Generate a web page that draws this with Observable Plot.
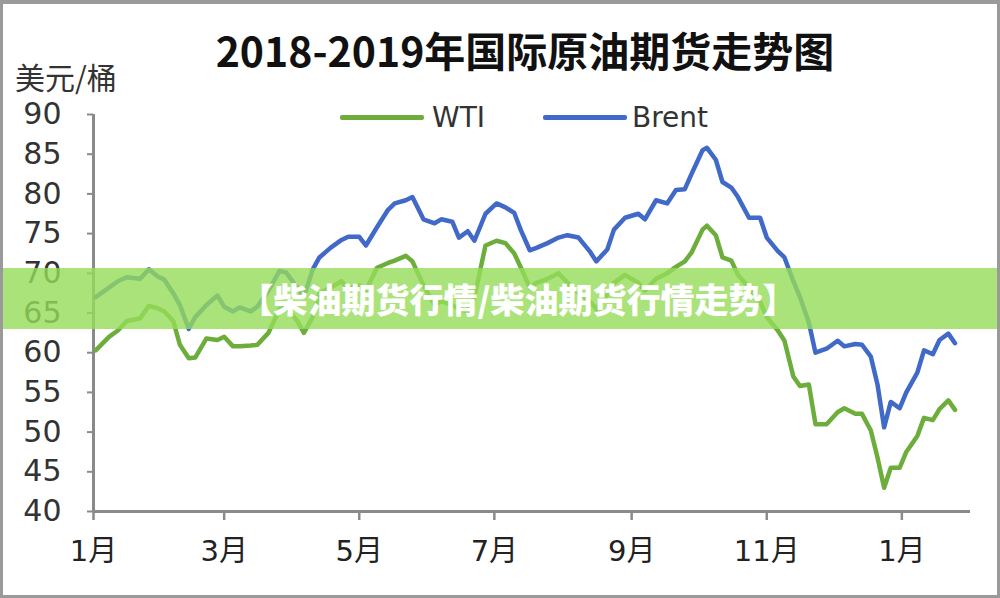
<!DOCTYPE html>
<html><head><meta charset="utf-8">
<script src="https://cdn.jsdelivr.net/npm/d3@7"></script>
<script src="https://cdn.jsdelivr.net/npm/@observablehq/plot@0.6"></script>
<style>
html,body{margin:0;padding:0;background:#fff;}
#wrap{position:relative;width:1000px;height:598px;overflow:hidden;background:#fff;}
#chart{position:absolute;left:0;top:0;}
#title{position:absolute;left:0;width:1050px;top:29px;text-align:center;font-family:"Noto Sans CJK SC",sans-serif;font-weight:bold;font-size:41px;line-height:41px;color:#111;white-space:nowrap;}
#ylabel{position:absolute;left:15px;top:61px;font-family:"Noto Sans CJK SC",sans-serif;font-size:30px;line-height:30px;color:#333;}
.sw{position:absolute;height:5px;border-radius:2px;}
.lt{position:absolute;font-family:"DejaVu Sans",sans-serif;font-size:28px;line-height:28px;color:#333;}
#banner{position:absolute;left:0;top:268px;width:1000px;height:61px;background:rgba(150,220,90,0.8);}
#bannerText{position:absolute;left:0;top:268px;width:1036px;height:61px;line-height:61px;text-align:center;color:#fff;font-family:"Noto Sans CJK SC",sans-serif;font-weight:900;font-size:34px;white-space:nowrap;}
#frame{position:absolute;left:0;top:0;width:1000px;height:598px;box-sizing:border-box;border:3px solid #9a9a9a;border-top-width:4px;pointer-events:none;}
</style>
</head><body>
<div id="wrap">
  <div id="chart"></div>
  <div id="title"></div>
  <div id="ylabel"></div>
  <div id="legend"></div>
  <div id="banner"></div>
  <div id="bannerText"></div>
  <div id="frame"></div>
</div>
<script>
const titleText = "2018-2019年国际原油期货走势图";
const yLabelText = "美元/桶";
const bannerLabel = "【柴油期货行情/柴油期货行情走势】";
const seriesNames = ["WTI", "Brent"];
const seriesColors = ["#6cad3c", "#4169c8"];
const yTicks = [40, 45, 50, 55, 60, 65, 70, 75, 80, 85, 90];
const xTickDates = ["2018-01-01", "2018-03-01", "2018-05-01", "2018-07-01", "2018-09-01", "2018-11-01", "2019-01-01"];
const xTickLabels = ["1月", "3月", "5月", "7月", "9月", "11月", "1月"];

const dates = [
 "2018-01-02","2018-01-08","2018-01-12","2018-01-16","2018-01-22","2018-01-26","2018-01-30",
 "2018-02-02","2018-02-06","2018-02-09","2018-02-13","2018-02-16","2018-02-21","2018-02-26",
 "2018-03-01","2018-03-05","2018-03-08","2018-03-13","2018-03-16","2018-03-21","2018-03-26","2018-03-29",
 "2018-04-03","2018-04-06","2018-04-10","2018-04-13","2018-04-18","2018-04-23","2018-04-26",
 "2018-05-01","2018-05-04","2018-05-09","2018-05-14","2018-05-17","2018-05-22","2018-05-25","2018-05-30",
 "2018-06-04","2018-06-07","2018-06-12","2018-06-15","2018-06-19","2018-06-22","2018-06-27",
 "2018-07-02","2018-07-06","2018-07-10","2018-07-13","2018-07-17","2018-07-20","2018-07-25","2018-07-30",
 "2018-08-03","2018-08-08","2018-08-13","2018-08-16","2018-08-21","2018-08-24","2018-08-29",
 "2018-09-04","2018-09-07","2018-09-12","2018-09-17","2018-09-21","2018-09-25","2018-09-28",
 "2018-10-03","2018-10-05","2018-10-09","2018-10-12","2018-10-16","2018-10-19","2018-10-24","2018-10-29",
 "2018-11-01","2018-11-06","2018-11-09","2018-11-13","2018-11-16","2018-11-20","2018-11-23","2018-11-28",
 "2018-12-03","2018-12-06","2018-12-11","2018-12-14","2018-12-18","2018-12-21","2018-12-24","2018-12-27","2018-12-31",
 "2019-01-03","2019-01-08","2019-01-11","2019-01-15","2019-01-18","2019-01-22","2019-01-25"
];
const wti = [
 60.3,62.0,62.8,64.0,64.3,65.9,65.6,
 65.2,64.0,61.0,59.3,59.4,61.8,61.6,
 62.0,60.8,60.8,60.9,61.0,62.5,65.5,65.7,
 64.0,62.5,64.5,67.5,68.2,69.0,68.0,
 68.5,67.8,70.7,71.3,71.6,72.2,71.5,68.5,
 66.0,66.5,66.0,65.5,65.2,67.0,73.5,
 74.1,73.8,72.5,70.7,68.2,68.8,69.3,70.0,
 68.8,67.5,66.5,65.5,67.3,68.8,69.8,
 68.8,67.8,69.3,70.0,70.8,71.5,72.6,
 75.5,76.0,74.8,72.0,71.6,69.8,68.2,66.4,
 64.5,62.8,61.5,57.0,55.8,56.0,51.0,51.0,
 52.5,53.0,52.3,52.3,50.2,46.8,43.0,45.5,45.5,
 47.5,49.5,51.8,51.5,52.9,54.0,52.8
];
const brent = [
 67.0,68.2,69.0,69.5,69.3,70.5,69.6,
 69.2,67.5,66.0,63.0,64.5,66.0,67.2,
 65.8,65.2,65.7,65.2,65.8,67.8,70.3,70.1,
 68.2,67.0,70.5,72.0,73.2,74.2,74.6,
 74.6,73.5,75.8,78.0,78.8,79.2,79.6,76.8,
 76.3,76.8,76.5,74.5,75.3,74.1,77.5,
 78.8,78.3,77.6,75.4,72.9,73.2,73.8,74.5,
 74.8,74.5,72.8,71.5,73.0,75.5,77.0,
 77.5,76.8,79.2,78.8,80.5,80.6,82.5,
 85.5,85.8,84.3,81.5,80.8,79.6,77.0,77.0,
 74.5,72.8,72.0,69.0,67.0,63.8,60.0,60.5,
 61.5,60.8,61.1,61.0,59.5,56.0,50.6,53.8,53.0,
 55.0,57.5,60.3,59.8,61.6,62.4,61.2
];

const rows = [];
dates.forEach((d, i) => {
  rows.push({date: new Date(d), value: wti[i], series: seriesNames[0]});
  rows.push({date: new Date(d), value: brent[i], series: seriesNames[1]});
});
const xTicks = xTickDates.map(d => new Date(d));

const chart = Plot.plot({
  width: 1000,
  height: 598,
  marginLeft: 93,
  marginRight: 30,
  marginTop: 114,
  marginBottom: 87,
  x: {type: "utc", domain: [new Date("2018-01-01"), new Date("2019-02-01")]},
  y: {domain: [40, 90]},
  color: {domain: seriesNames, range: seriesColors},
  style: {fontFamily: "'DejaVu Sans','Noto Sans CJK SC',sans-serif", background: "transparent", overflow: "visible"},
  marks: [
    Plot.axisY({ticks: yTicks, tickSize: 6, tickPadding: 26, fontSize: 30, label: null, stroke: "#8a8a8a", strokeWidth: 2, fill: "#333"}),
    Plot.axisX({ticks: xTicks, tickFormat: d => xTickLabels[xTicks.findIndex(t => +t === +d)], tickSize: 9, tickPadding: 20, fontSize: 29, label: null, stroke: "#8a8a8a", strokeWidth: 2.5, fill: "#222"}),
    Plot.ruleX([new Date("2018-01-01")], {y1: 40, y2: 90, stroke: "#8a8a8a", strokeWidth: 3}),
    Plot.ruleY([40], {stroke: "#8a8a8a", strokeWidth: 3}),
    Plot.line(rows, {x: "date", y: "value", z: "series", stroke: "series", strokeWidth: 4.5, strokeLinejoin: "round", strokeLinecap: "round"})
  ]
});
document.getElementById("chart").appendChild(chart);

document.getElementById("title").textContent = titleText;
document.getElementById("ylabel").textContent = yLabelText;
document.getElementById("bannerText").textContent = bannerLabel;

const legendPos = [{sw: 340, tx: 432}, {sw: 543, tx: 632}];
const legend = document.getElementById("legend");
seriesNames.forEach((name, i) => {
  const s = document.createElement("div");
  s.className = "sw";
  s.style.left = legendPos[i].sw + "px";
  s.style.top = "115px";
  s.style.width = "84px";
  s.style.background = seriesColors[i];
  legend.appendChild(s);
  const t = document.createElement("div");
  t.className = "lt";
  t.style.left = legendPos[i].tx + "px";
  t.style.top = "104px";
  t.textContent = name;
  legend.appendChild(t);
});
</script>
</body></html>
